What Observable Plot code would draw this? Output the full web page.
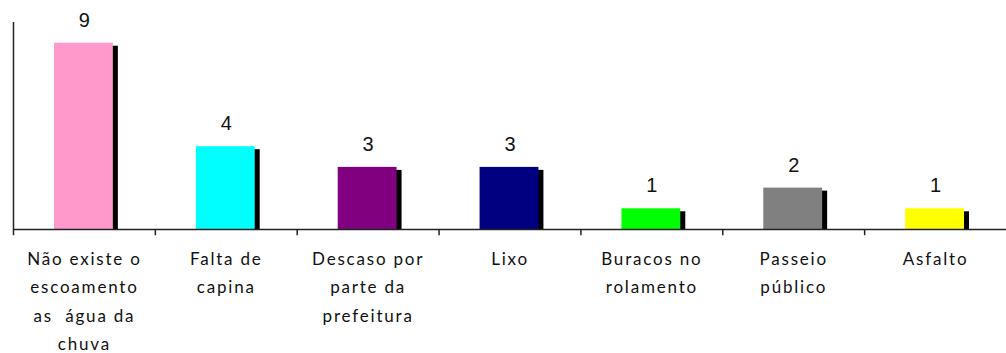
<!DOCTYPE html>
<html>
<head>
<meta charset="utf-8">
<script src="https://cdn.jsdelivr.net/npm/d3@7"></script>
<script src="https://cdn.jsdelivr.net/npm/@observablehq/plot@0.6"></script>
<style>
  html, body { margin: 0; padding: 0; background: #fff; }
  #chart svg { display: block; }
  #chart g[font-family^="Lato"], #chart g[font-family^="Lato"] text { letter-spacing: 1.8px; }
</style>
</head>
<body>
<div id="chart"></div>
<script>
const categories = ["Não existe o escoamento as água da chuva", "Falta de capina", "Descaso por parte da prefeitura", "Lixo", "Buracos no rolamento", "Passeio público", "Asfalto"];
const tickLabels = ["Não existe o\nescoamento\nas  água da\nchuva", "Falta de\ncapina", "Descaso por\nparte da\nprefeitura", "Lixo", "Buracos no\nrolamento", "Passeio\npúblico", "Asfalto"];
const values = [9, 4, 3, 3, 1, 2, 1];
const colors = ["#FF99CC", "#00FFFF", "#800080", "#000080", "#00FF00", "#808080", "#FFFF00"];

const data = categories.map((c, i) => ({cat: c, value: values[i], color: colors[i], label: tickLabels[i]}));

const W = 1006, H = 353, ML = 13, MR = 0;
const step = (W - ML - MR) / categories.length;

const chart = Plot.plot({
  width: W,
  height: H,
  marginLeft: ML,
  marginRight: MR,
  marginTop: 22,
  marginBottom: 124,
  x: {type: "band", domain: categories, padding: 0, round: false, axis: null},
  y: {domain: [0, 10], axis: null},
  marks: [
    Plot.barY(data, {x: "cat", y: "value", fill: "black", insetLeft: 41, insetRight: 42, dx: 5, dy: 3, insetBottom: 3}),
    Plot.barY(data, {x: "cat", y: "value", fill: "color", insetLeft: 41, insetRight: 42}),
    Plot.ruleY([0], {stroke: "#222", strokeWidth: 1.5}),
    Plot.ruleX([categories[0]], {y1: 0, y2: 10, dx: -step / 2, stroke: "#222", strokeWidth: 1.5}),
    Plot.ruleX(categories, {y1: 0, y2: -0.3, dx: -step / 2, stroke: "#222", strokeWidth: 1.5}),
    Plot.text(data, {x: "cat", y: "value", text: d => String(d.value), dy: -23, fontSize: 20, fill: "#111", fontFamily: "Liberation Sans, Arial, sans-serif"}),
    Plot.text(data, {x: "cat", y: 0, text: "label", dy: 16, lineAnchor: "top", lineHeight: 1.65, fontSize: 17, fill: "#111", fontFamily: "Lato, sans-serif"})
  ],
  style: {background: "#fff"}
});
document.getElementById("chart").appendChild(chart);
</script>
</body>
</html>
